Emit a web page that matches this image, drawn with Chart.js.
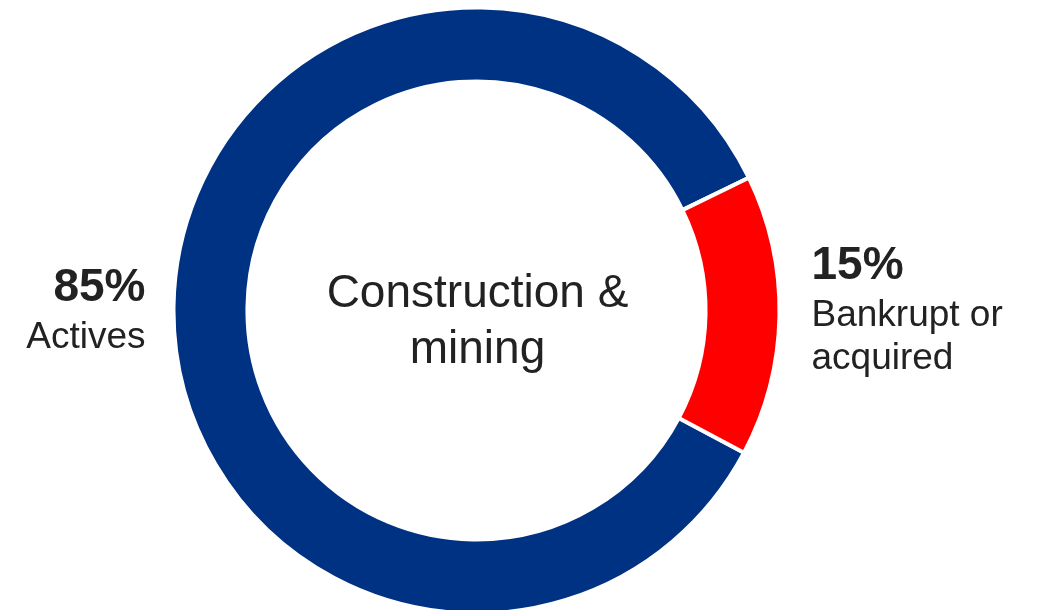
<!DOCTYPE html>
<html>
<head>
<meta charset="utf-8">
<title>Construction &amp; mining</title>
<script src="https://cdn.jsdelivr.net/npm/chart.js@4"></script>
<style>
  html, body { margin: 0; padding: 0; background: #ffffff; overflow: hidden; }
  #wrap { position: relative; width: 1040px; height: 610px; }
</style>
</head>
<body>
<div id="wrap"><canvas id="statusChart"></canvas></div>
<script>
// company status split for one sector

const categories = ["Actives", "Bankrupt or acquired"];
const shares = [85, 15];
const sliceColors = ["#003283", "#ff0000"];
const centerTitle = ["Construction &", "mining"];

// label lines shown next to the ring (percent first, then name)
const leftLabel = ["85%", "Actives"];
const rightLabel = ["15%", "Bankrupt or", "acquired"];

document.addEventListener("DOMContentLoaded", function () {

  // -------------------------------
  // text around / inside the ring
  // -------------------------------
  const ringText = {
    id: "ringText",
    afterDraw(chart) {
      const arc = chart.getDatasetMeta(0).data[0];
      if (!arc) return;
      const ctx = chart.ctx;
      const cx = arc.x;
      const cy = arc.y;
      const r = arc.outerRadius;

      ctx.save();
      ctx.fillStyle = "#222222";
      ctx.textBaseline = "alphabetic";

      // centre title
      ctx.textAlign = "center";
      ctx.font = "46px 'Liberation Sans', Arial, sans-serif";
      ctx.fillText(centerTitle[0], cx + 1, cy - 4);
      ctx.fillText(centerTitle[1], cx + 1, cy + 52);

      // left label, right aligned
      const lx = cx - r - 28;
      ctx.textAlign = "right";
      ctx.font = "bold 46px 'Liberation Sans', Arial, sans-serif";
      ctx.fillText(leftLabel[0], lx, cy - 10);
      ctx.font = "37px 'Liberation Sans', Arial, sans-serif";
      ctx.fillText(leftLabel[1], lx, cy + 37);

      // right label, left aligned
      const rx = cx + r + 32;
      ctx.textAlign = "left";
      ctx.font = "bold 46px 'Liberation Sans', Arial, sans-serif";
      ctx.fillText(rightLabel[0], rx, cy - 32);
      ctx.font = "37px 'Liberation Sans', Arial, sans-serif";
      ctx.fillText(rightLabel[1], rx, cy + 15);
      ctx.fillText(rightLabel[2], rx, cy + 58);

      ctx.restore();
    }
  };

  // -------------------------------
  // status doughnut
  // -------------------------------
  const canvas = document.getElementById("statusChart");

  if (canvas) {
    new Chart(canvas, {
      type: "doughnut",
      data: {
        labels: categories,
        datasets: [{
          data: shares,
          backgroundColor: sliceColors,
          borderColor: "#ffffff",
          borderWidth: 4,
          hoverOffset: 0
        }]
      },
      options: {
        responsive: true,
        maintainAspectRatio: false,
        animation: false,
        rotation: 118,
        radius: 303,
        cutout: "75.6%",
        layout: {
          padding: { left: 0, right: 87, top: 11, bottom: 0 }
        },
        plugins: {
          legend: { display: false },
          tooltip: { enabled: false }
        }
      },
      plugins: [ringText]
    });
  }

});
</script>
</body>
</html>
